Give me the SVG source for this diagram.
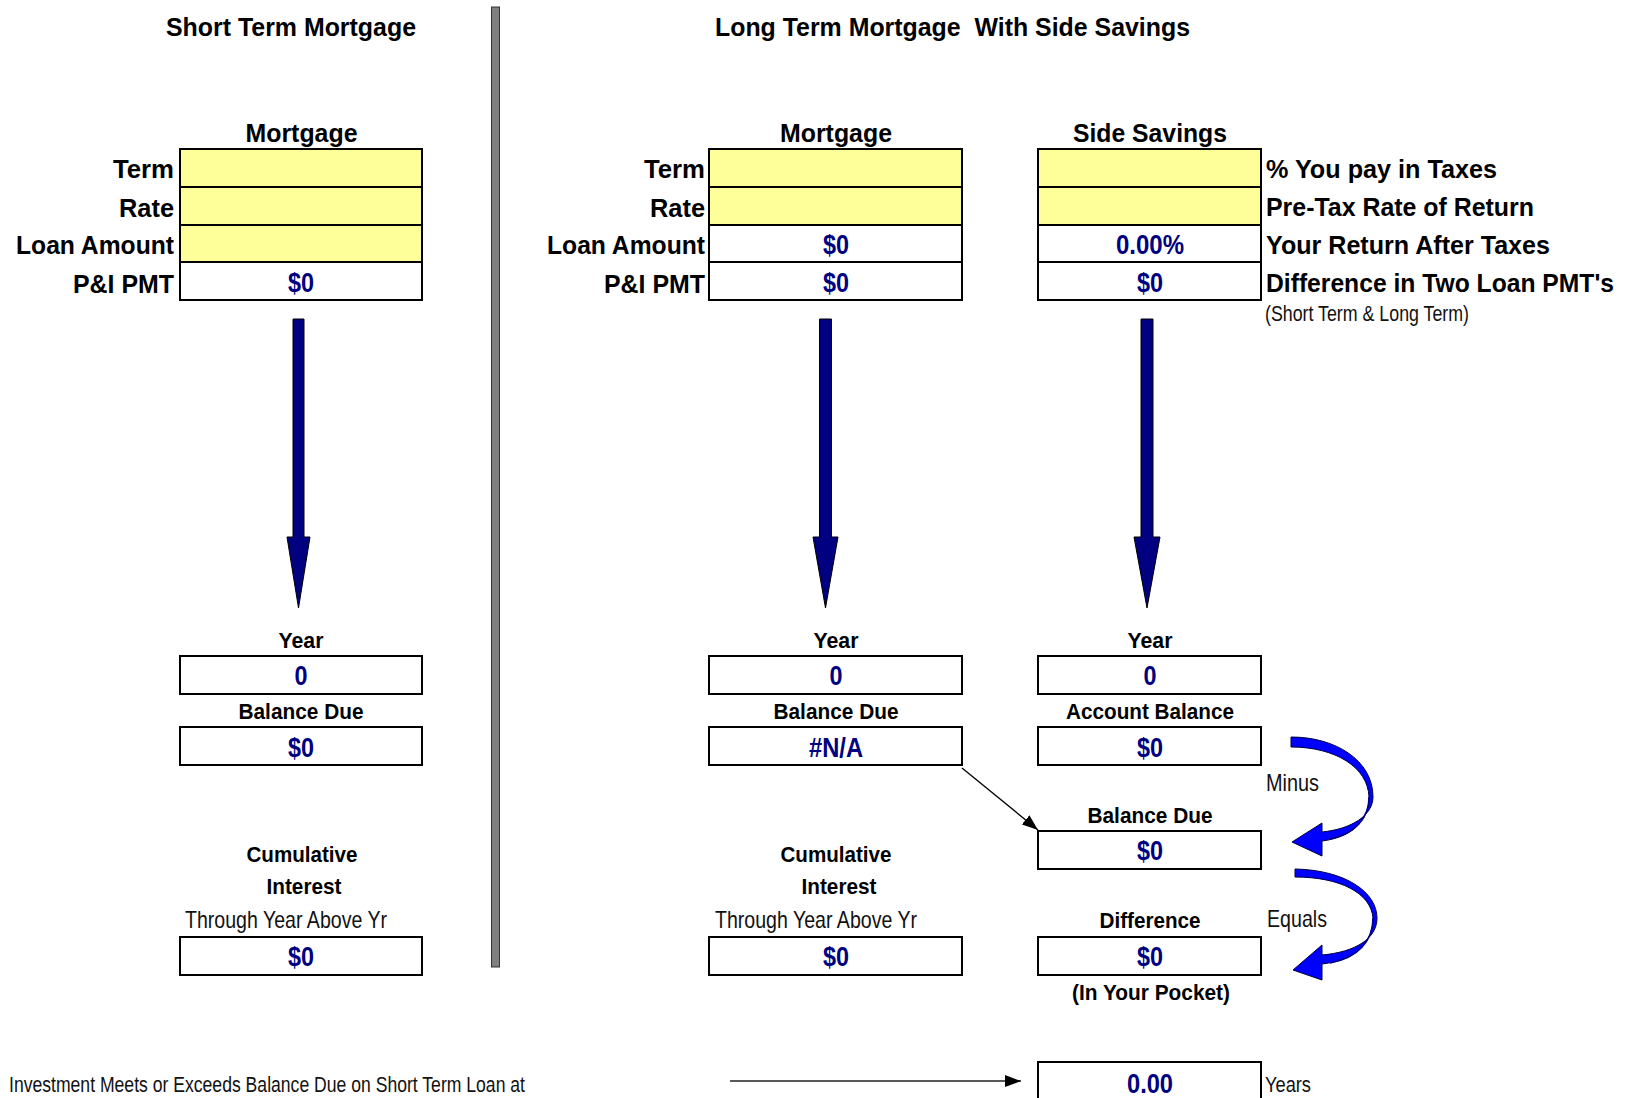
<svg xmlns="http://www.w3.org/2000/svg" width="1631" height="1098" viewBox="0 0 1631 1098">
<style>
.t{font-family:"Liberation Sans",Arial,sans-serif;fill:#000;font-weight:bold}
.lbl{font-size:26.3px}
.sub{font-size:22.4px}
.val{font-family:"Liberation Sans Narrow","Liberation Sans",Arial,sans-serif;font-size:28.5px;font-weight:bold;fill:#000080;text-anchor:middle}
.sm{font-family:"Liberation Sans Narrow","Liberation Sans",Arial,sans-serif;font-size:21.2px;fill:#111}
.md{font-size:23.4px}
.mid{text-anchor:middle}
.end{text-anchor:end}
.inp{fill:#FFFF99;stroke:#000;stroke-width:2}
.cell{fill:#fff;stroke:#000;stroke-width:2}
.down{fill:#000080;stroke:#000;stroke-width:1}
.curve{fill:#0000FF;stroke:#000040;stroke-width:1}
.thin{stroke:#000;stroke-width:1.3;fill:none}
</style>
<defs>
<marker id="ah" viewBox="0 0 16 12" refX="16" refY="6" markerWidth="16" markerHeight="12" orient="auto" markerUnits="userSpaceOnUse">
<path d="M0,0 L16,6 L0,12 z" fill="#000"/>
</marker>
</defs>

<g id="divider">
<rect x="491.5" y="7" width="8" height="960" fill="#808080" stroke="#333" stroke-width="1"/>
</g>

<g id="title-short"><text class="t lbl" x="166" y="36" textLength="250" lengthAdjust="spacingAndGlyphs">Short Term Mortgage</text></g>
<g id="title-long"><text class="t lbl" x="715" y="36" xml:space="preserve" textLength="475" lengthAdjust="spacingAndGlyphs">Long Term Mortgage  With Side Savings</text></g>

<g id="short-mortgage">
<text class="t lbl mid" x="301.5" y="142" textLength="112" lengthAdjust="spacingAndGlyphs">Mortgage</text>
<rect class="inp" x="180" y="149" width="242" height="38"/>
<rect class="inp" x="180" y="187" width="242" height="38"/>
<rect class="inp" x="180" y="225" width="242" height="37"/>
<rect class="cell" x="180" y="262" width="242" height="38"/>
<text class="t lbl end" x="174" y="178" textLength="61" lengthAdjust="spacingAndGlyphs">Term</text>
<text class="t lbl end" x="174" y="217" textLength="55" lengthAdjust="spacingAndGlyphs">Rate</text>
<text class="t lbl end" x="174" y="254" textLength="158" lengthAdjust="spacingAndGlyphs">Loan Amount</text>
<text class="t lbl end" x="174" y="293" textLength="101" lengthAdjust="spacingAndGlyphs">P&amp;I PMT</text>
<text class="val" x="301" y="292" textLength="26" lengthAdjust="spacingAndGlyphs">$0</text>
</g>

<g id="long-mortgage">
<text class="t lbl mid" x="836" y="142" textLength="112" lengthAdjust="spacingAndGlyphs">Mortgage</text>
<rect class="inp" x="709" y="149" width="253" height="38"/>
<rect class="inp" x="709" y="187" width="253" height="38"/>
<rect class="cell" x="709" y="225" width="253" height="37"/>
<rect class="cell" x="709" y="262" width="253" height="38"/>
<text class="t lbl end" x="705" y="178" textLength="61" lengthAdjust="spacingAndGlyphs">Term</text>
<text class="t lbl end" x="705" y="217" textLength="55" lengthAdjust="spacingAndGlyphs">Rate</text>
<text class="t lbl end" x="705" y="254" textLength="158" lengthAdjust="spacingAndGlyphs">Loan Amount</text>
<text class="t lbl end" x="705" y="293" textLength="101" lengthAdjust="spacingAndGlyphs">P&amp;I PMT</text>
<text class="val" x="836" y="254" textLength="26" lengthAdjust="spacingAndGlyphs">$0</text>
<text class="val" x="836" y="292" textLength="26" lengthAdjust="spacingAndGlyphs">$0</text>
</g>

<g id="side-savings">
<text class="t lbl mid" x="1150" y="142" textLength="154" lengthAdjust="spacingAndGlyphs">Side Savings</text>
<rect class="inp" x="1038" y="149" width="223" height="38"/>
<rect class="inp" x="1038" y="187" width="223" height="38"/>
<rect class="cell" x="1038" y="225" width="223" height="37"/>
<rect class="cell" x="1038" y="262" width="223" height="38"/>
<text class="t lbl" x="1266" y="178" textLength="231" lengthAdjust="spacingAndGlyphs">% You pay in Taxes</text>
<text class="t lbl" x="1266" y="216" textLength="268" lengthAdjust="spacingAndGlyphs">Pre-Tax Rate of Return</text>
<text class="t lbl" x="1266" y="254" textLength="284" lengthAdjust="spacingAndGlyphs">Your Return After Taxes</text>
<text class="t" x="1266" y="292" style="font-size:25.5px" textLength="348" lengthAdjust="spacingAndGlyphs">Difference in Two Loan PMT's</text>
<text class="sm" x="1265" y="321" textLength="204" lengthAdjust="spacingAndGlyphs">(Short Term &amp; Long Term)</text>
<text class="val" x="1150" y="254" textLength="68" lengthAdjust="spacingAndGlyphs">0.00%</text>
<text class="val" x="1150" y="292" textLength="26" lengthAdjust="spacingAndGlyphs">$0</text>
</g>

<g id="short-year">
<text class="t sub mid" x="301" y="648" textLength="45" lengthAdjust="spacingAndGlyphs">Year</text>
<rect class="cell" x="180" y="656" width="242" height="38"/>
<text class="val" x="301" y="685" textLength="13" lengthAdjust="spacingAndGlyphs">0</text>
</g>
<g id="short-balance">
<text class="t sub mid" x="301" y="719" textLength="125" lengthAdjust="spacingAndGlyphs">Balance Due</text>
<rect class="cell" x="180" y="727" width="242" height="38"/>
<text class="val" x="301" y="757" textLength="26" lengthAdjust="spacingAndGlyphs">$0</text>
</g>
<g id="short-interest">
<text class="t sub mid" x="302" y="862" textLength="111" lengthAdjust="spacingAndGlyphs">Cumulative</text>
<text class="t sub mid" x="304" y="894" textLength="75" lengthAdjust="spacingAndGlyphs">Interest</text>
<text class="sm md" x="185" y="928" textLength="202" lengthAdjust="spacingAndGlyphs">Through Year Above Yr</text>
<rect class="cell" x="180" y="937" width="242" height="38"/>
<text class="val" x="301" y="966" textLength="26" lengthAdjust="spacingAndGlyphs">$0</text>
</g>

<g id="long-year">
<text class="t sub mid" x="836" y="648" textLength="45" lengthAdjust="spacingAndGlyphs">Year</text>
<rect class="cell" x="709" y="656" width="253" height="38"/>
<text class="val" x="836" y="685" textLength="13" lengthAdjust="spacingAndGlyphs">0</text>
</g>
<g id="long-balance">
<text class="t sub mid" x="836" y="719" textLength="125" lengthAdjust="spacingAndGlyphs">Balance Due</text>
<rect class="cell" x="709" y="727" width="253" height="38"/>
<text class="val" x="836" y="757" textLength="54" lengthAdjust="spacingAndGlyphs">#N/A</text>
</g>
<g id="long-interest">
<text class="t sub mid" x="836" y="862" textLength="111" lengthAdjust="spacingAndGlyphs">Cumulative</text>
<text class="t sub mid" x="839" y="894" textLength="75" lengthAdjust="spacingAndGlyphs">Interest</text>
<text class="sm md" x="715" y="928" textLength="202" lengthAdjust="spacingAndGlyphs">Through Year Above Yr</text>
<rect class="cell" x="709" y="937" width="253" height="38"/>
<text class="val" x="836" y="966" textLength="26" lengthAdjust="spacingAndGlyphs">$0</text>
</g>

<g id="side-year">
<text class="t sub mid" x="1150" y="648" textLength="45" lengthAdjust="spacingAndGlyphs">Year</text>
<rect class="cell" x="1038" y="656" width="223" height="38"/>
<text class="val" x="1150" y="685" textLength="13" lengthAdjust="spacingAndGlyphs">0</text>
</g>
<g id="side-account">
<text class="t sub mid" x="1150" y="719" textLength="168" lengthAdjust="spacingAndGlyphs">Account Balance</text>
<rect class="cell" x="1038" y="727" width="223" height="38"/>
<text class="val" x="1150" y="757" textLength="26" lengthAdjust="spacingAndGlyphs">$0</text>
</g>
<g id="side-balance-due">
<text class="t sub mid" x="1150" y="823" textLength="125" lengthAdjust="spacingAndGlyphs">Balance Due</text>
<rect class="cell" x="1038" y="831" width="223" height="38"/>
<text class="val" x="1150" y="860" textLength="26" lengthAdjust="spacingAndGlyphs">$0</text>
</g>
<g id="side-difference">
<text class="t sub mid" x="1150" y="928" textLength="101" lengthAdjust="spacingAndGlyphs">Difference</text>
<rect class="cell" x="1038" y="937" width="223" height="38"/>
<text class="val" x="1150" y="966" textLength="26" lengthAdjust="spacingAndGlyphs">$0</text>
<text class="t sub mid" x="1151" y="1000" textLength="158" lengthAdjust="spacingAndGlyphs">(In Your Pocket)</text>
</g>
<g id="side-minus"><text class="sm md" x="1266" y="791" textLength="53" lengthAdjust="spacingAndGlyphs">Minus</text></g>
<g id="side-equals"><text class="sm md" x="1267" y="927" textLength="60" lengthAdjust="spacingAndGlyphs">Equals</text></g>

<g id="investment-label">
<text class="sm" x="9" y="1092" textLength="516" lengthAdjust="spacingAndGlyphs">Investment Meets or Exceeds Balance Due on Short Term Loan at</text>
</g>
<g id="years-result">
<rect class="cell" x="1038" y="1062" width="223" height="50"/>
<text class="val" x="1150" y="1093" textLength="46" lengthAdjust="spacingAndGlyphs">0.00</text>
<text class="sm" x="1265" y="1092" textLength="46" lengthAdjust="spacingAndGlyphs">Years</text>
</g>

<g id="connectors">
<polygon class="down" points="293,319 304,319 304,537 310,537 298.5,608 287,537 293,537"/>
<polygon class="down" points="819.5,319 831.5,319 831.5,537 838,537 825.5,608 813,537 819.5,537"/>
<polygon class="down" points="1141,319 1153,319 1153,537 1160,537 1147,608 1134,537 1141,537"/>
<line class="thin" x1="962" y1="768" x2="1038" y2="830" marker-end="url(#ah)"/>
<line x1="730" y1="1081" x2="1021" y2="1081" stroke="#222" stroke-width="1.5" marker-end="url(#ah)"/>
<path class="curve" d="M1291,737 C1335,737 1373,760 1373,797 C1373,815 1352,829 1322,832 L1322,823 L1292,842 L1322,856 L1322,841 C1355,837 1369,818 1369,797 C1368,767 1335,747 1291,747 Z"/>
<path d="M1369,797 C1369,818 1355,834 1330,839" fill="none" stroke="#000080" stroke-width="1.5"/>
<path class="curve" d="M1295,869 C1345,870 1377,892 1377,918 C1377,939 1355,952 1322,955 L1322,945 L1293,970 L1322,980 L1322,964 C1358,960 1373,941 1373,918 C1371,893 1340,877 1295,877 Z"/>
<path d="M1373,918 C1373,941 1358,958 1330,963" fill="none" stroke="#000080" stroke-width="1.5"/>
</g>
</svg>
